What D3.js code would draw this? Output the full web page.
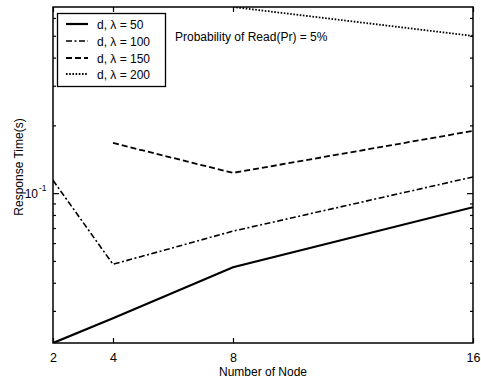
<!DOCTYPE html>
<html>
<head>
<meta charset="utf-8">
<script src="https://cdn.jsdelivr.net/npm/d3@7"></script>
<style>
  html, body { margin: 0; padding: 0; background: #fff; }
  svg { display: block; }
  text { font-family: "Liberation Sans", Arial, Helvetica, sans-serif; fill: #000; }
</style>
</head>
<body>
<svg id="chart" width="481" height="380"></svg>
<script>
// Number of nodes on the x axis
const nodes = [2, 4, 8, 16];

// Response time (s) for each arrival rate; null = no measurement
const lambda50  = [0.0216, 0.0278, 0.0469, 0.0866];
const lambda100 = [0.114, 0.0483, 0.0678, 0.118];
const lambda150 = [null, 0.167, 0.123, 0.189];
const lambda200 = [null, null, 0.671, 0.499];

const seriesNames = ["d, \u03bb = 50", "d, \u03bb = 100", "d, \u03bb = 150", "d, \u03bb = 200"];

// Tick values
const xTicks = [2, 4, 8, 16];
const yMajorTicks = [0.1];
const yMinorTicks = [0.03, 0.04, 0.05, 0.06, 0.07, 0.08, 0.09, 0.2, 0.3, 0.4, 0.5, 0.6];

const annotation = "Probability of Read(Pr) = 5%";
const xTitle = "Number of Node";
const yTitle = "Response Time(s)";

const styles = [
  { dash: null,          width: 2.2 },
  { dash: "6,2.5,2,2.5", width: 1.6 },
  { dash: "6,3",         width: 1.8 },
  { dash: "1.6,1.6",     width: 1.8 }
];

const svg = d3.select("#chart");
const L = 53, R = 473, T = 7, B = 343;

const allSeries = [lambda50, lambda100, lambda150, lambda200];
const allVals = allSeries.flat().filter(v => v != null);

const x = d3.scaleLinear().domain(d3.extent(nodes)).range([L, R]);
const y = d3.scaleLog().domain(d3.extent(allVals)).range([B, T]);

svg.append("defs").append("clipPath").attr("id", "plot")
  .append("rect").attr("x", L).attr("y", T).attr("width", R - L).attr("height", B - T);

// Series lines
const line = d3.line()
  .defined(d => d.v != null)
  .x(d => x(d.n))
  .y(d => y(d.v));

allSeries.forEach((vals, i) => {
  const pts = nodes.map((n, j) => ({ n, v: vals[j] }));
  svg.append("path")
    .datum(pts)
    .attr("clip-path", "url(#plot)")
    .attr("fill", "none")
    .attr("stroke", "#000")
    .attr("stroke-width", styles[i].width)
    .attr("stroke-dasharray", styles[i].dash)
    .attr("d", line);
});

// Axes (ticks point inward)
function styleAxis(g) {
  g.select(".domain").remove();
  g.selectAll(".tick line").attr("stroke", "#000").attr("stroke-width", 1.2);
  g.selectAll(".tick text")
    .style("font-family", "'Liberation Sans', Arial, sans-serif")
    .style("font-size", "12.5px").attr("fill", "#000");
}

svg.append("g").attr("transform", `translate(0,${B})`)
  .call(d3.axisBottom(x).tickValues(xTicks).tickSize(-5).tickPadding(10).tickFormat(d3.format("d")))
  .call(styleAxis);
svg.append("g").attr("transform", `translate(0,${T})`)
  .call(d3.axisTop(x).tickValues(xTicks).tickSize(-5).tickFormat(""))
  .call(styleAxis);

svg.append("g").attr("transform", `translate(${L},0)`)
  .call(d3.axisLeft(y).tickValues(yMinorTicks).tickSize(-3).tickFormat(""))
  .call(styleAxis);
svg.append("g").attr("transform", `translate(${L},0)`)
  .call(d3.axisLeft(y).tickValues(yMajorTicks).tickSize(-6).tickFormat(""))
  .call(styleAxis);
svg.append("g").attr("transform", `translate(${R},0)`)
  .call(d3.axisRight(y).tickValues(yMinorTicks).tickSize(-3).tickFormat(""))
  .call(styleAxis);
svg.append("g").attr("transform", `translate(${R},0)`)
  .call(d3.axisRight(y).tickValues(yMajorTicks).tickSize(-6).tickFormat(""))
  .call(styleAxis);

// Decade label 10^-1
yMajorTicks.forEach(v => {
  const exp = Math.round(Math.log10(v));
  svg.append("text")
    .attr("x", 38).attr("y", y(v) + 5)
    .attr("text-anchor", "end")
    .style("font-size", "12px")
    .text("10");
  svg.append("text")
    .attr("x", 39).attr("y", y(v) - 2)
    .style("font-size", "8.5px")
    .text(String(exp));
});

// Frame
svg.append("rect")
  .attr("x", L).attr("y", T).attr("width", R - L).attr("height", B - T)
  .attr("fill", "none").attr("stroke", "#000").attr("stroke-width", 1.5);

// Axis titles
svg.append("text")
  .attr("x", (L + R) / 2).attr("y", 376)
  .attr("text-anchor", "middle")
  .style("font-size", "12px")
  .text(xTitle);

svg.append("text")
  .attr("transform", `translate(23,167) rotate(-90)`)
  .attr("text-anchor", "middle")
  .style("font-size", "12px")
  .text(yTitle);

// Annotation
svg.append("text")
  .attr("x", 175).attr("y", 41)
  .style("font-size", "12px")
  .text(annotation);

// Legend
const lg = svg.append("g");
lg.append("rect")
  .attr("x", 57.5).attr("y", 13.5).attr("width", 108).attr("height", 73)
  .attr("fill", "#fff").attr("stroke", "#000").attr("stroke-width", 1.3);
const rowY = [24, 41, 58, 74];
seriesNames.forEach((name, i) => {
  lg.append("line")
    .attr("x1", 66).attr("x2", 88)
    .attr("y1", rowY[i]).attr("y2", rowY[i])
    .attr("stroke", "#000")
    .attr("stroke-width", styles[i].width)
    .attr("stroke-dasharray", styles[i].dash);
  lg.append("text")
    .attr("x", 97).attr("y", rowY[i] + 4.5)
    .style("font-size", "12px")
    .text(name);
});
</script>
</body>
</html>
